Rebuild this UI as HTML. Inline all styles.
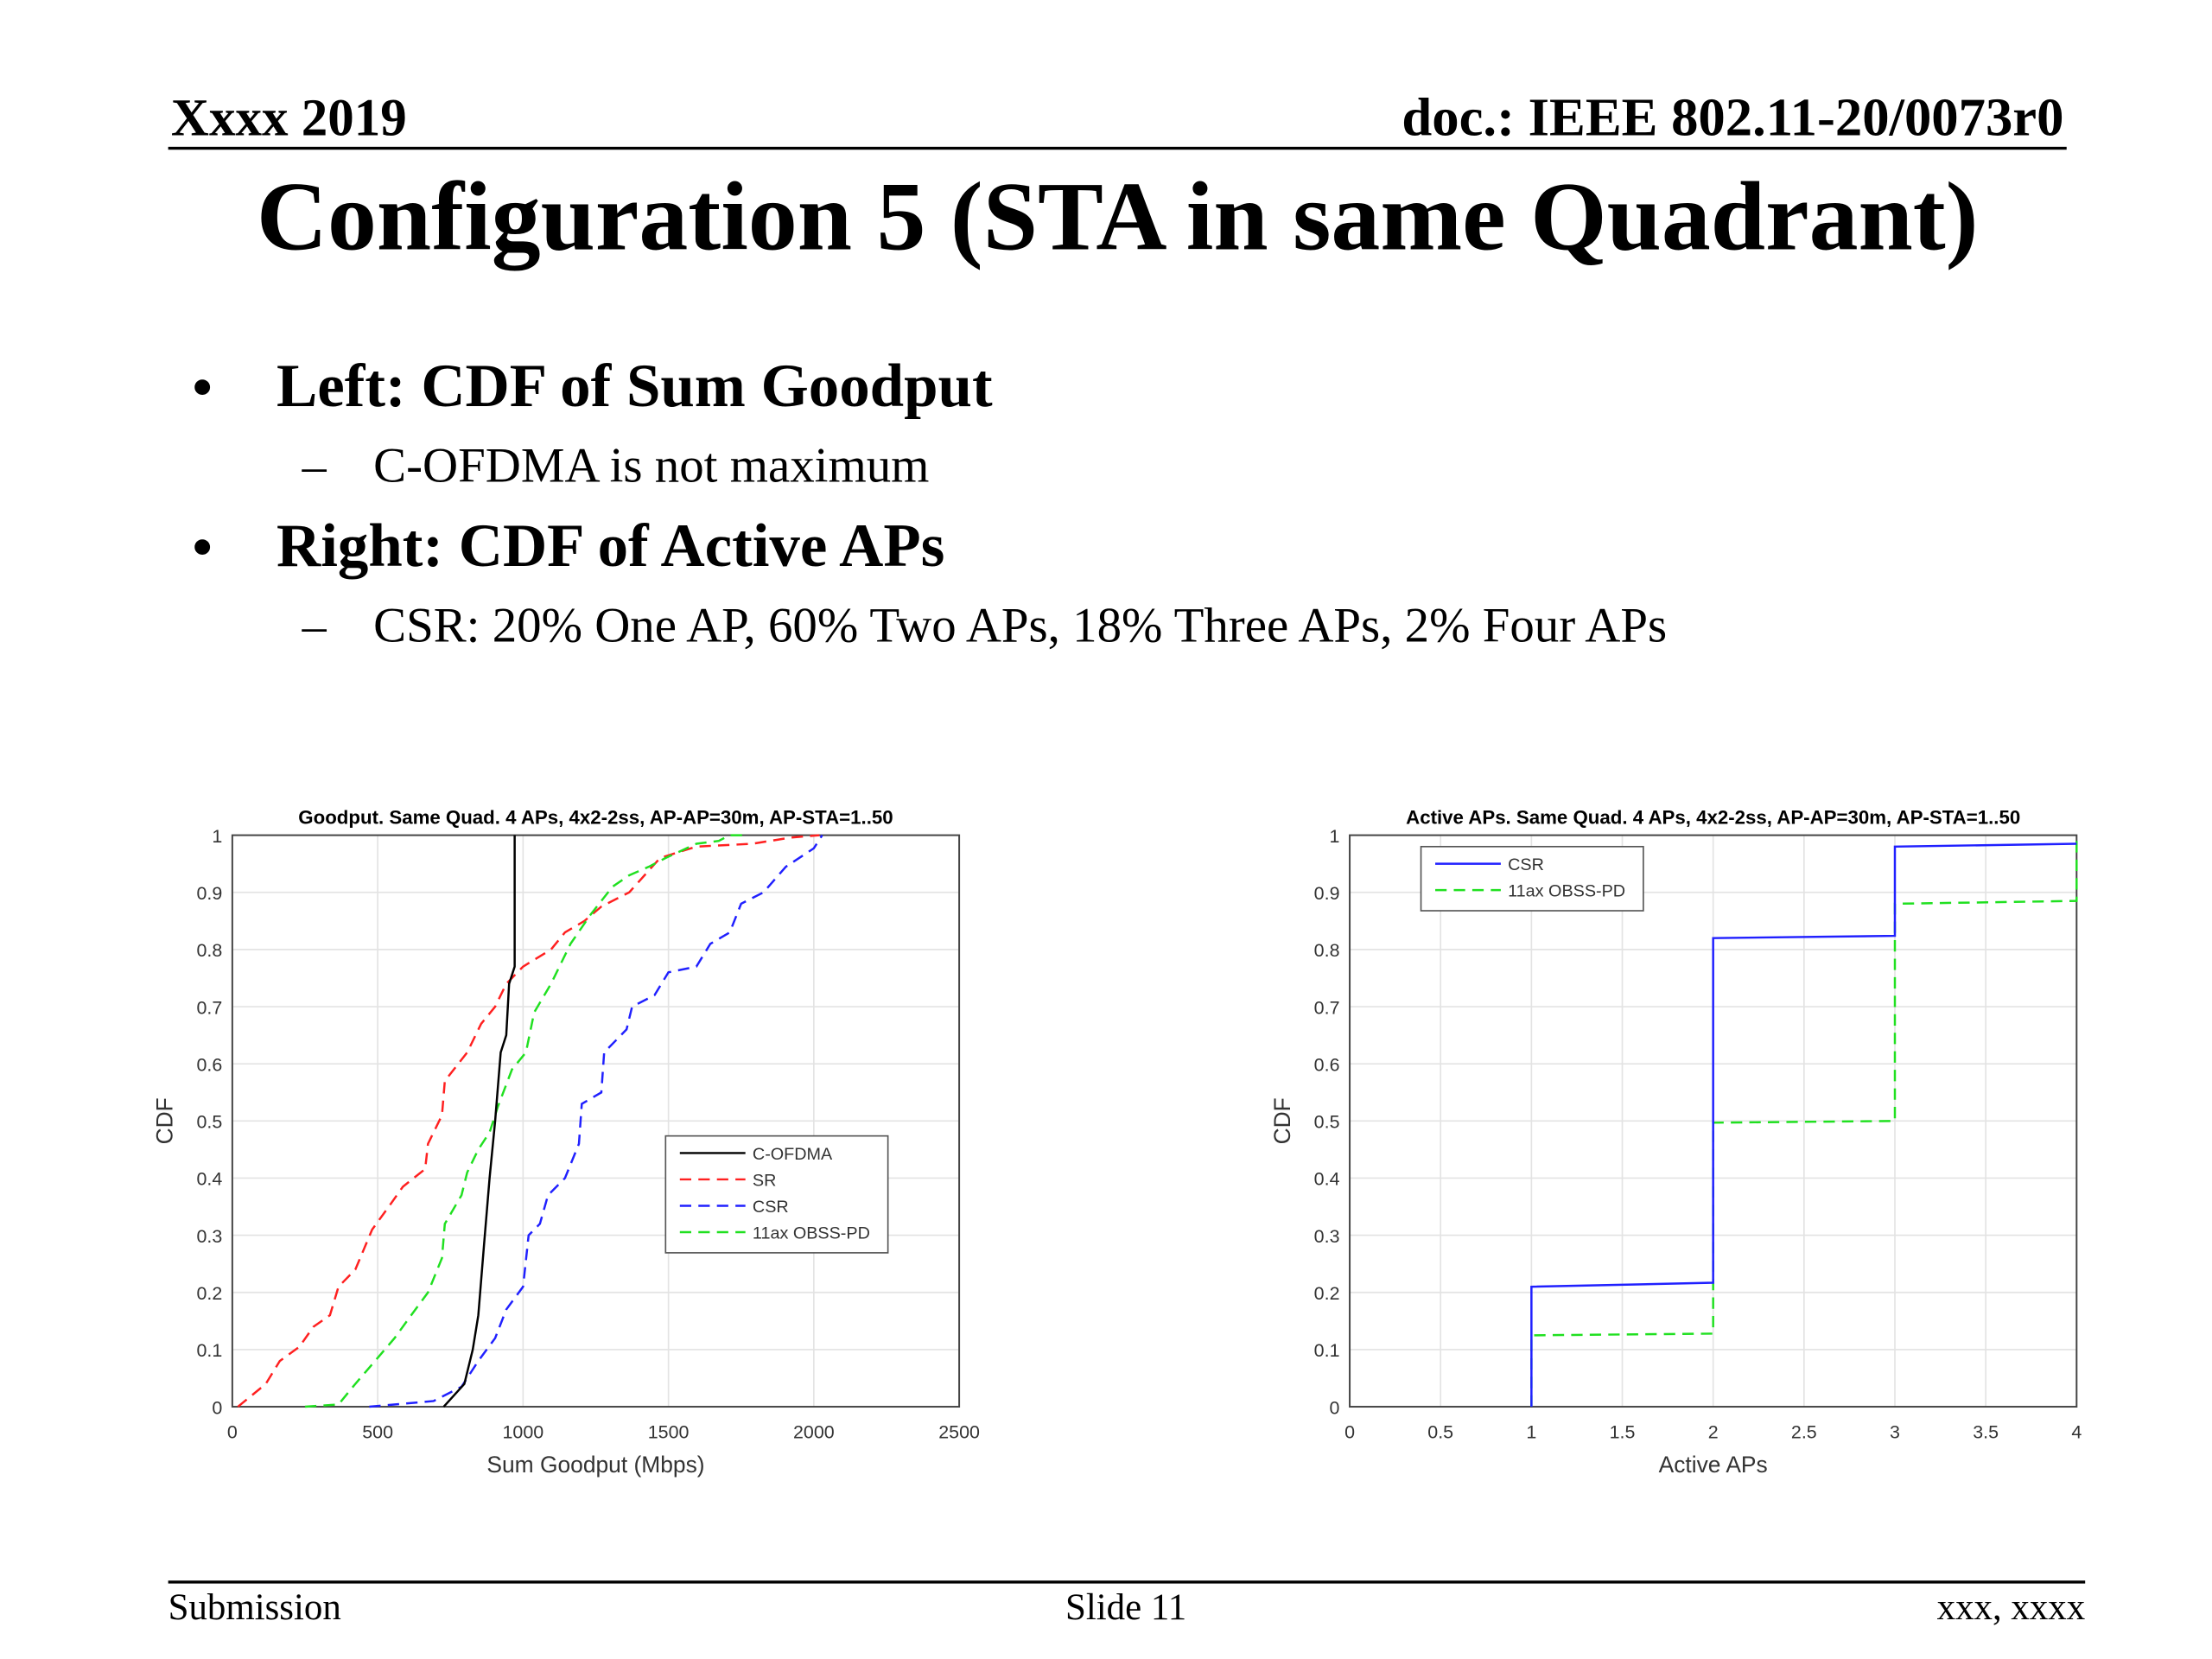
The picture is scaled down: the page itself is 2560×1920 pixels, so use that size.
<!DOCTYPE html>
<html><head><meta charset="utf-8"><style>
html,body{margin:0;padding:0;background:#fff;}
svg{display:block;}
.serif{font-family:"Liberation Serif",serif;}
.sans{font-family:"Liberation Sans",sans-serif;}
</style></head><body>
<svg id="root" width="2560" height="1920" viewBox="0 0 1552 1164" xmlns="http://www.w3.org/2000/svg">
<rect width="1552" height="1164" fill="#fff"/>
<text class="serif" x="120" y="95" font-size="37" font-weight="bold">Xxxx 2019</text>
<text class="serif" x="1448" y="95" font-size="38" font-weight="bold" text-anchor="end">doc.: IEEE 802.11-20/0073r0</text>
<line x1="118" y1="104" x2="1450" y2="104" stroke="#000" stroke-width="2"/>
<text class="serif" x="784" y="175" font-size="69" font-weight="bold" text-anchor="middle">Configuration 5 (STA in same Quadrant)</text>
<text class="serif" x="135" y="285" font-size="40" font-weight="bold">•</text>
<text class="serif" x="194" y="285" font-size="43" font-weight="bold">Left: CDF of Sum Goodput</text>
<text class="serif" x="212" y="338" font-size="34">–</text>
<text class="serif" x="262" y="338" font-size="34.5">C-OFDMA is not maximum</text>
<text class="serif" x="135" y="397" font-size="40" font-weight="bold">•</text>
<text class="serif" x="194" y="397" font-size="43" font-weight="bold">Right: CDF of Active APs</text>
<text class="serif" x="212" y="450" font-size="34">–</text>
<text class="serif" x="262" y="450" font-size="34.5">CSR: 20% One AP, 60% Two APs, 18% Three APs, 2% Four APs</text>
<line x1="118" y1="1110" x2="1463" y2="1110" stroke="#000" stroke-width="2"/>
<text class="serif" x="118" y="1136" font-size="26">Submission</text>
<text class="serif" x="790" y="1136" font-size="26" text-anchor="middle">Slide 11</text>
<text class="serif" x="1463" y="1136" font-size="26" text-anchor="end">xxx, xxxx</text>
<g id="left"></g>
<g id="right"></g>
</svg>
<script>
// Left chart data
const leftXTicks = [0,500,1000,1500,2000,2500];
const yTicks = [0,0.1,0.2,0.3,0.4,0.5,0.6,0.7,0.8,0.9,1];
const cofdmaX = [727,798,827,846,865,885,904,923,942,952,971,971];
const cofdmaY = [0,0.04,0.1,0.16,0.28,0.4,0.5,0.62,0.65,0.74,0.77,1];
const srX = [19,67,115,163,231,279,336,365,423,481,538,587,663,673,721,731,808,856,904,942,1000,1096,1144,1211,1269,1365,1471,1596,1788,1923,2019];
const srY = [0,0.02,0.04,0.08,0.105,0.14,0.16,0.21,0.24,0.31,0.35,0.385,0.416,0.46,0.51,0.57,0.62,0.67,0.70,0.74,0.77,0.80,0.83,0.85,0.875,0.90,0.96,0.98,0.985,0.996,1];
const csrX = [471,692,788,846,904,942,1000,1019,1058,1086,1144,1192,1202,1269,1279,1356,1375,1452,1500,1596,1644,1711,1750,1827,1904,2000,2029];
const csrY = [0,0.01,0.035,0.08,0.12,0.17,0.21,0.30,0.32,0.37,0.40,0.46,0.53,0.55,0.62,0.66,0.70,0.72,0.76,0.77,0.81,0.83,0.88,0.90,0.945,0.977,1];
const obssX = [250,365,423,481,558,615,673,721,731,788,808,846,885,913,962,1010,1038,1096,1125,1163,1231,1308,1365,1433,1490,1596,1673,1711,1769];
const obssY = [0,0.004,0.04,0.074,0.12,0.16,0.2,0.26,0.32,0.37,0.41,0.45,0.48,0.525,0.59,0.62,0.69,0.74,0.77,0.81,0.86,0.91,0.93,0.945,0.96,0.985,0.99,1,1];
// Right chart data
const rightXTicks = [0,0.5,1,1.5,2,2.5,3,3.5,4];
const apCsrX = [1,1,2,2,3,3,4];
const apCsrY = [0,0.21,0.217,0.82,0.824,0.98,0.985];
const apObssX = [1,1,2,2,3,3,4,4];
const apObssY = [0,0.125,0.128,0.497,0.5,0.88,0.885,1];

const NS="http://www.w3.org/2000/svg";
function mk(parent,tag,attrs){const e=document.createElementNS(NS,tag);for(const k in attrs)e.setAttribute(k,attrs[k]);parent.appendChild(e);return e;}
const pTop=586,pBot=987;
function axes(g,x0,x1,xmax,xticks,title,xlabel,fmt){
  const sx=v=>x0+(x1-x0)*v/xmax, sy=v=>pBot-(pBot-pTop)*v;
  const bg=mk(g,'rect',{x:x0,y:pTop,width:x1-x0,height:pBot-pTop,fill:'#fff'});
  
  
  xticks.forEach(t=>{
    const l=mk(g,'line',{x1:sx(t),x2:sx(t),y1:pTop,y2:pBot,stroke:'#e3e3e3','stroke-width':1});
    
    
    const tx=mk(g,'text',{x:sx(t),y:pBot+22,'font-size':13,'text-anchor':'middle',fill:'#333',class:'sans'});
    tx.textContent=fmt(t);
    
    
  });
  yTicks.forEach(t=>{
    const l=mk(g,'line',{x1:x0,x2:x1,y1:sy(t),y2:sy(t),stroke:'#e3e3e3','stroke-width':1});
    
    
    const tx=mk(g,'text',{x:x0-7,y:sy(t)+5,'font-size':13,'text-anchor':'end',fill:'#333',class:'sans'});
    tx.textContent=String(t);
    
    
  });
  const fr=mk(g,'rect',{x:x0,y:pTop,width:x1-x0,height:pBot-pTop,fill:'none',stroke:'#444','stroke-width':1.2});
  
  
  const tt=mk(g,'text',{x:(x0+x1)/2,y:pTop-8,'font-size':13.5,'font-weight':'bold','text-anchor':'middle',class:'sans'});
  tt.textContent=title;
  
  
  const xl=mk(g,'text',{x:(x0+x1)/2,y:pBot+46,'font-size':16,'text-anchor':'middle',fill:'#333',class:'sans'});
  xl.textContent=xlabel;
  
  
  const yl=mk(g,'text',{x:0,y:0,'font-size':16,'text-anchor':'middle',fill:'#333',class:'sans',transform:`translate(${x0-42},${(pTop+pBot)/2}) rotate(-90)`});
  yl.textContent='CDF';
  
  
  return {sx,sy};
}
function series(g,s,xs,ys,color,dash,name){
  const pts=xs.map((x,i)=>s.sx(x).toFixed(1)+','+s.sy(ys[i]).toFixed(1)).join(' ');
  const p=mk(g,'polyline',{points:pts,fill:'none',stroke:color,'stroke-width':1.5});
  if(dash)p.setAttribute('stroke-dasharray','8,5');
  
  
}
function legend(g,x,y,w,entries){
  const h=entries.length*18.5+8;
  const r=mk(g,'rect',{x:x,y:y,width:w,height:h,fill:'#fff',stroke:'#555','stroke-width':1});
  
  
  entries.forEach((e,i)=>{
    const cy=y+12+i*18.5;
    const l=mk(g,'line',{x1:x+10,x2:x+56,y1:cy,y2:cy,stroke:e[1],'stroke-width':1.5});
    if(e[2])l.setAttribute('stroke-dasharray','8,5');
    
    
    const t=mk(g,'text',{x:x+61,y:cy+4.5,'font-size':12,fill:'#333',class:'sans'});
    t.textContent=e[0];
    
    
  });
}
const L=document.getElementById('left');
const sl=axes(L,163,673,2500,leftXTicks,'Goodput. Same Quad. 4 APs, 4x2-2ss, AP-AP=30m, AP-STA=1..50','Sum Goodput (Mbps)',String);
series(L,sl,srX,srY,'#ff2020',true,'sr-line');
series(L,sl,csrX,csrY,'#2020ff',true,'csr-line');
series(L,sl,obssX,obssY,'#20e020',true,'obss-pd-line');
series(L,sl,cofdmaX,cofdmaY,'#000',false,'c-ofdma-line');
legend(L,467,797,156,[['C-OFDMA','#000',false],['SR','#ff2020',true],['CSR','#2020ff',true],['11ax OBSS-PD','#20e020',true]]);
const R=document.getElementById('right');
const sr=axes(R,947,1457,4,rightXTicks,'Active APs. Same Quad. 4 APs, 4x2-2ss, AP-AP=30m, AP-STA=1..50','Active APs',String);
series(R,sr,apObssX,apObssY,'#20e020',true,'ap-obss-pd-line');
series(R,sr,apCsrX,apCsrY,'#2020ff',false,'ap-csr-line');
legend(R,997,594,156,[['CSR','#2020ff',false],['11ax OBSS-PD','#20e020',true]]);
</script>
</body></html>
